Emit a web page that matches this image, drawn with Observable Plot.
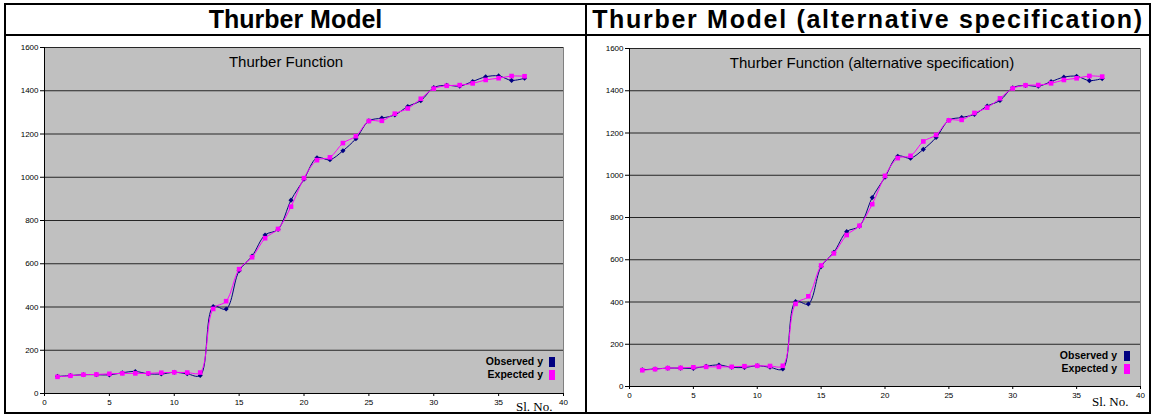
<!DOCTYPE html>
<html>
<head>
<meta charset="utf-8">
<script src="https://cdn.jsdelivr.net/npm/d3@7"></script>
<script src="https://cdn.jsdelivr.net/npm/@observablehq/plot@0.6"></script>
<style>
  html, body { margin: 0; padding: 0; background: #fff; }
  #page { position: relative; width: 1154px; height: 419px; overflow: hidden; font-family: "Liberation Sans", Arial, sans-serif; }
  .ln { position: absolute; background: #000; }
  .hdr { position: absolute; top: 4px; height: 31px; line-height: 31px; text-align: center; font-weight: bold; font-size: 25px; color: #000; white-space: nowrap; }
  .panel { position: absolute; top: 36px; }
  .lg { position: absolute; font-size: 10.5px; font-weight: bold; color: #000; text-align: right; white-space: nowrap; line-height: 12px; }
  .sw { position: absolute; width: 6px; height: 10px; }
</style>
</head>
<body>
<div id="page">
  <div id="left" class="panel" style="left:0px"></div>
  <div id="right" class="panel" style="left:588px"></div>
  <div class="ln" style="left:4px;top:3px;width:1147px;height:2px"></div>
  <div class="ln" style="left:4px;top:412px;width:1147px;height:2px"></div>
  <div class="ln" style="left:4px;top:3px;width:2px;height:411px"></div>
  <div class="ln" style="left:1149px;top:3px;width:2px;height:411px"></div>
  <div class="ln" style="left:585px;top:3px;width:2px;height:411px"></div>
  <div class="ln" style="left:4px;top:34px;width:1147px;height:2px"></div>
  <div class="hdr" style="left:6px;width:579px">Thurber Model</div>
  <div class="hdr" style="left:587px;width:562px;letter-spacing:1.7px">Thurber Model (alternative specification)</div>

  <div class="lg" style="left:443px;top:355px;width:100px">Observed y</div>
  <div class="sw" style="left:549px;top:357px;background:#000080"></div>
  <div class="lg" style="left:443px;top:368px;width:100px">Expected y</div>
  <div class="sw" style="left:549px;top:370px;background:#ff00ff"></div>

  <div class="lg" style="left:1017px;top:349px;width:100px">Observed y</div>
  <div class="sw" style="left:1124px;top:351px;background:#000080"></div>
  <div class="lg" style="left:1017px;top:362px;width:100px">Expected y</div>
  <div class="sw" style="left:1124px;top:364px;background:#ff00ff"></div>
</div>
<script>
const slNo = [1,2,3,4,5,6,7,8,9,10,11,12,13,14,15,16,17,18,19,20,21,22,23,24,25,26,27,28,29,30,31,32,33,34,35,36,37];
const observedY = [79, 83, 87, 87, 86, 96, 102, 91, 90, 98, 91, 83,
  401.7, 390.7, 567.5, 635.3, 733.1, 759.1, 894.2, 990.8, 1090.1, 1080.9, 1122.6, 1178.4,
  1260.5, 1273.5, 1288.3, 1327.5, 1353.9, 1414.5, 1425.2, 1421.4, 1443.0, 1464.4, 1468.7, 1447.9, 1457.6];
const expectedY = [77, 82, 87, 88, 91, 93, 93, 93, 96, 98, 97, 97,
  391, 427, 575, 630, 718, 761, 864, 996, 1079, 1092, 1158, 1190,
  1260, 1261, 1294, 1318, 1363, 1410, 1423, 1426, 1434, 1450, 1458, 1468, 1467];
const expectedYAlt = [77, 82, 87, 88, 91, 93, 93, 93, 96, 98, 97, 98,
  391, 427, 573, 630, 717, 761, 863, 997, 1081, 1092, 1160, 1191,
  1260, 1262, 1295, 1320, 1364, 1411, 1426, 1427, 1435, 1451, 1459, 1470, 1467];
const xTicks = [0, 5, 10, 15, 20, 25, 30, 35, 40];
const yTicks = [0, 200, 400, 600, 800, 1000, 1200, 1400, 1600];
const titleLeft = "Thurber Function";
const titleRight = "Thurber Function (alternative specification)";
const xLabel = "Sl. No.";

function chart(expected, title, opts) {
  const data = slNo.map((n, i) => ({n, obs: observedY[i], exp: expected[i]}));
  const fmt = d3.format("d");
  return Plot.plot({
    width: opts.width, height: opts.height,
    marginLeft: opts.ml, marginRight: opts.mr, marginTop: opts.mt, marginBottom: opts.mb,
    style: {fontFamily: "'Liberation Sans', Arial, sans-serif", fontSize: "8px", color: "#000", background: "transparent", overflow: "visible"},
    x: {domain: [0, 40]},
    y: {domain: [0, 1600]},
    marks: [
      Plot.frame({fill: "#c0c0c0", stroke: "#808080"}),
      Plot.gridY(yTicks.filter(v => v > 0), {stroke: "#262626", strokeOpacity: 1}),
      Plot.ruleX([0], {stroke: "#000"}),
      Plot.ruleY([0], {stroke: "#000"}),
      Plot.axisX({ticks: xTicks, tickSize: 3, tickPadding: 3, label: null, tickFormat: fmt}),
      Plot.axisY({ticks: yTicks, tickSize: 4, tickPadding: 2, label: null, tickFormat: fmt}),
      Plot.line(data, {x: "n", y: "obs", stroke: "#000080", strokeWidth: 1, curve: "catmull-rom"}),
      Plot.dot(data, {x: "n", y: "obs", symbol: "diamond2", fill: "#000080", r: 2.3}),
      Plot.line(data, {x: "n", y: "exp", stroke: "#ff00ff", strokeWidth: 1, curve: "catmull-rom"}),
      Plot.dot(data, {x: "n", y: "exp", symbol: "square", fill: "#ff00ff", r: 2.6}),
      Plot.text([title], {frameAnchor: "top", dx: opts.titleDx, dy: 9, fontSize: 15, fill: "#000"}),
      Plot.text([xLabel], {frameAnchor: "bottom-right", dx: opts.lblDx, dy: opts.lblDy, fontSize: 13, fontFamily: "'Liberation Serif', 'Times New Roman', serif", fill: "#000", textAnchor: "end"})
    ]
  });
}

document.getElementById("left").appendChild(
  chart(expectedY, titleLeft, {width: 580, height: 376, ml: 44, mr: 17, mt: 11, mb: 19, titleDx: -18, lblDx: -11, lblDy: 17}));
document.getElementById("right").appendChild(
  chart(expectedYAlt, titleRight, {width: 560, height: 376, ml: 41, mr: 8, mt: 12, mb: 26, titleDx: -13, lblDx: -12, lblDy: 19}));
</script>
</body>
</html>
